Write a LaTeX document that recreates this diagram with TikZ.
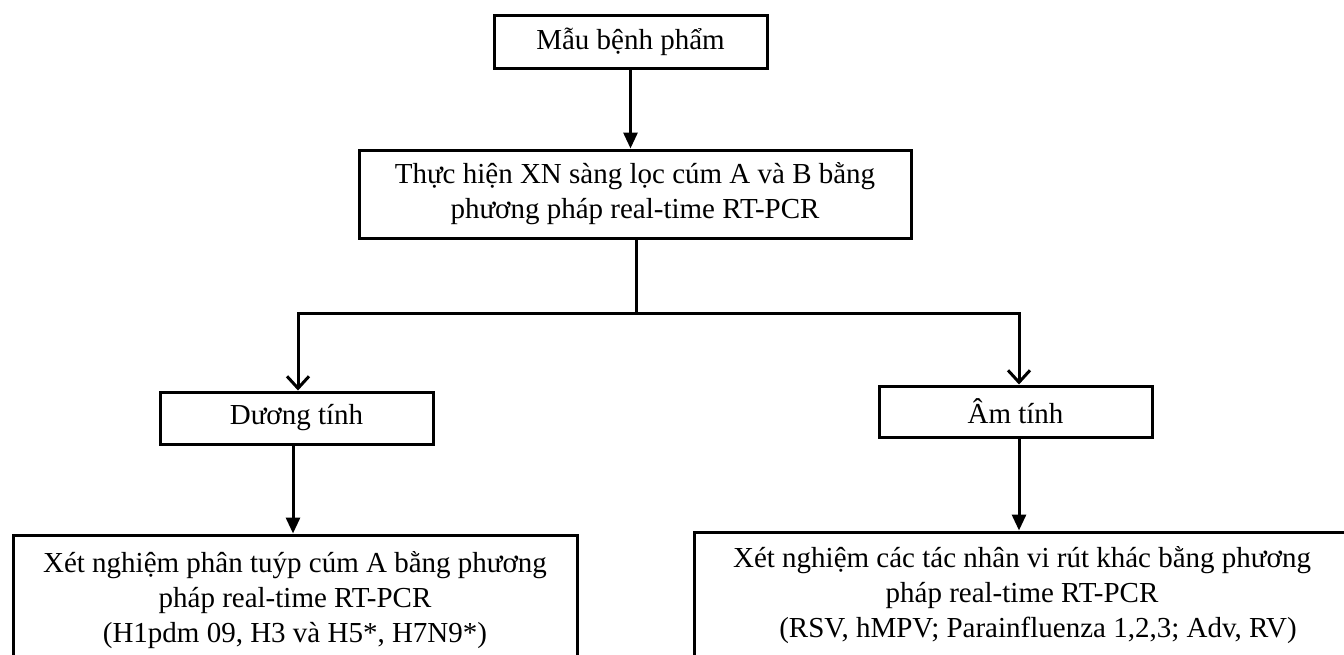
\documentclass[tikz,border=0pt]{standalone}
\usepackage{fontspec}
\setmainfont{Liberation Serif}
\usetikzlibrary{arrows.meta}
\begin{document}
\begin{tikzpicture}[x=0.5pt,y=-0.5pt,
  box/.style={draw=black, line width=1.5pt, fill=white, align=center, inner sep=0pt,
    font=\fontsize{14.5}{17.5}\selectfont},
  line/.style={draw=black, line width=1.5pt},
  filled/.style={line, -{Triangle[length=8pt,width=7pt]}},
  open/.style={line, -{Straight Barb[length=6pt,width=11pt,line width=1.5pt]}}
]
\useasboundingbox (0,0) rectangle (1344,654);
\fill[white] (0,0) rectangle (1344,654);
\clip (0,0) rectangle (1344,654);
\node[box, minimum width=136.5pt, minimum height=26.5pt] (b1) at (630.5,41.5) {Mẫu bệnh phẩm};
\node[box, minimum width=276pt, minimum height=44pt] (b2) at (635,194)
  {Thực hiện XN sàng lọc cúm A và B bằng\\phương pháp real-time RT-PCR};
\node[box, minimum width=136.5pt, minimum height=26pt] (pos) at (296.5,418) {Dương tính};
\node[box, minimum width=136.5pt, minimum height=25.5pt] (neg) at (1015.5,411.5) {Âm tính};
\node[box, minimum width=282pt, minimum height=65pt] (b3) at (295,600)
  {Xét nghiệm phân tuýp cúm A bằng phương\\pháp real-time RT-PCR\\(H1pdm 09, H3 và H5*, H7N9*)};
\node[box, minimum width=328pt, minimum height=63pt] (b4) at (1022,595)
  {Xét nghiệm các tác nhân vi rút khác bằng phương\\pháp real-time RT-PCR\\\hspace*{16pt}(RSV, hMPV; Parainfluenza 1,2,3; Adv, RV)};
\coordinate (split) at (636,313);
\draw[filled] (b1.south) -- (b1.south |- b2.north);
\draw[line] (b2.south -| split) -- (split);
\draw[open] (split) -| (298,0 |- pos.north);
\draw[open] (split) -| (1019,0 |- neg.north);
\draw[filled] (293,0 |- pos.south) -- (293,0 |- b3.north);
\draw[filled] (1019,0 |- neg.south) -- (1019,0 |- b4.north);
\end{tikzpicture}
\end{document}
